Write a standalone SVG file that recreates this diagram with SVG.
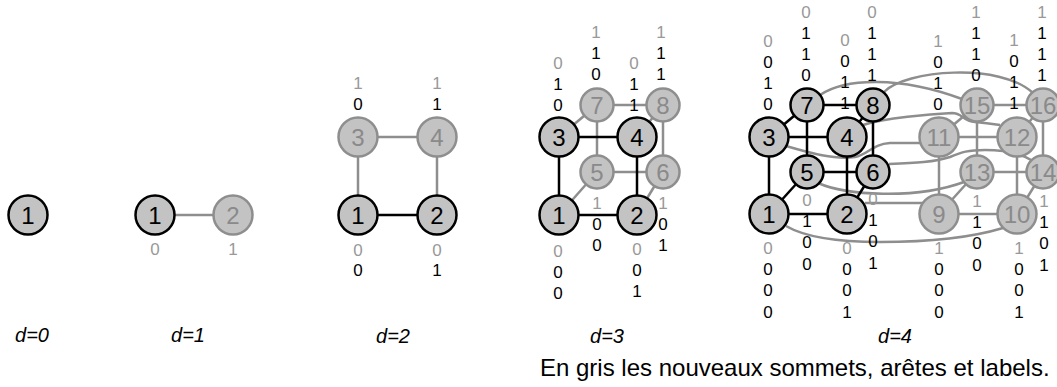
<svg xmlns="http://www.w3.org/2000/svg" width="1057" height="387" viewBox="0 0 1057 387">
<style>
.bg{fill:#fff}
.ob{fill:#c3c3c3;stroke:#000;stroke-width:2.5}
.nb{fill:#c3c3c3;stroke:#8e8e8e;stroke-width:2.5}
.ot{font-family:"Liberation Sans",Arial,sans-serif;font-size:24px;fill:#000;text-anchor:middle}
.nt{font-family:"Liberation Sans",Arial,sans-serif;font-size:24px;fill:#8a8a8a;text-anchor:middle}
.eb{stroke:#000;stroke-width:2.5;fill:none}
.eg{stroke:#8e8e8e;stroke-width:2.5;fill:none}
.bits{font-family:"Liberation Sans",Arial,sans-serif;font-size:17px;fill:#000;text-anchor:middle}
.g{fill:#999}
.dl{font-family:"Liberation Sans",Arial,sans-serif;font-size:20px;font-style:italic;fill:#000;text-anchor:middle}
.cap{font-family:"Liberation Sans",Arial,sans-serif;font-size:24px;fill:#000}
</style>
<rect class="bg" x="0" y="0" width="1057" height="387"/>

<!-- ================= connectors ================= -->
<g id="connectors">
  <!-- d=1 -->
  <line class="eg" x1="155" y1="215" x2="233" y2="215"/>
  <!-- d=2 -->
  <line class="eg" x1="358" y1="215" x2="358" y2="137"/>
  <line class="eg" x1="437" y1="215" x2="437" y2="137"/>
  <line class="eg" x1="358" y1="137" x2="437" y2="137"/>
  <line class="eb" x1="358" y1="215" x2="437" y2="215"/>
  <!-- d=3 gray -->
  <line class="eg" x1="597" y1="172" x2="663" y2="172"/>
  <line class="eg" x1="597" y1="105" x2="663" y2="105"/>
  <line class="eg" x1="597" y1="172" x2="597" y2="105"/>
  <line class="eg" x1="663" y1="172" x2="663" y2="105"/>
  <line class="eg" x1="559" y1="215" x2="597" y2="172"/>
  <line class="eg" x1="637" y1="215" x2="663" y2="172"/>
  <line class="eg" x1="559" y1="137" x2="597" y2="105"/>
  <line class="eg" x1="637" y1="137" x2="663" y2="105"/>
  <!-- d=3 black -->
  <line class="eb" x1="559" y1="215" x2="637" y2="215"/>
  <line class="eb" x1="559" y1="215" x2="559" y2="137"/>
  <line class="eb" x1="559" y1="137" x2="637" y2="137"/>
  <line class="eb" x1="637" y1="215" x2="637" y2="137"/>
  <!-- d=4 links between halves -->
  <path class="eg" d="M820,95 C845,78 900,76 962,99"/>
  <path class="eg" d="M884,92 C905,70 1000,62 1033,93"/>
  <path class="eg" d="M863,125 C885,118 930,114 952,113 C963,113 962,121 975,122 C986,123 993,124 1000,125"/>
  <path class="eg" d="M786,146 C810,153 835,160 855,157 C868,155 872,144 890,143 L921,143"/>
  <path class="eg" d="M889,164 C915,163 935,162 950,157 C962,152 968,150 985,150 C1005,150 1020,153 1033,161"/>
  <path class="eg" d="M818,183 C845,195 915,200 964,182"/>
  <line class="eg" x1="865" y1="203" x2="923" y2="203"/>
  <path class="eg" d="M786,226 C810,240 850,242 880,242 C930,242 970,238 1003,228"/>
  <!-- d=4 right cube (gray) -->
  <line class="eg" x1="939" y1="214" x2="1017" y2="214"/>
  <line class="eg" x1="939" y1="137" x2="1017" y2="137"/>
  <line class="eg" x1="939" y1="214" x2="939" y2="137"/>
  <line class="eg" x1="1017" y1="214" x2="1017" y2="137"/>
  <line class="eg" x1="977" y1="172" x2="1043" y2="172"/>
  <line class="eg" x1="977" y1="105" x2="1043" y2="105"/>
  <line class="eg" x1="977" y1="172" x2="977" y2="105"/>
  <line class="eg" x1="1043" y1="172" x2="1043" y2="105"/>
  <line class="eg" x1="939" y1="214" x2="977" y2="172"/>
  <line class="eg" x1="1017" y1="214" x2="1043" y2="172"/>
  <line class="eg" x1="939" y1="137" x2="977" y2="105"/>
  <line class="eg" x1="1017" y1="137" x2="1043" y2="105"/>
  <!-- d=4 left cube (black) -->
  <line class="eb" x1="807" y1="172" x2="873" y2="172"/>
  <line class="eb" x1="807" y1="105" x2="873" y2="105"/>
  <line class="eb" x1="807" y1="172" x2="807" y2="105"/>
  <line class="eb" x1="873" y1="172" x2="873" y2="105"/>
  <line class="eb" x1="769" y1="214" x2="807" y2="172"/>
  <line class="eb" x1="847" y1="214" x2="873" y2="172"/>
  <line class="eb" x1="769" y1="137" x2="807" y2="105"/>
  <line class="eb" x1="847" y1="137" x2="873" y2="105"/>
  <line class="eb" x1="769" y1="214" x2="847" y2="214"/>
  <line class="eb" x1="769" y1="214" x2="769" y2="137"/>
  <line class="eb" x1="769" y1="137" x2="847" y2="137"/>
  <line class="eb" x1="847" y1="214" x2="847" y2="137"/>
</g>

<!-- ================= nodes ================= -->
<!-- d=0 -->
<g id="d0-n1"><circle class="ob" cx="28" cy="215" r="19.5"/><text class="ot" x="28" y="223.6">1</text></g>
<!-- d=1 -->
<g id="d1-n1"><circle class="ob" cx="155" cy="215" r="19.5"/><text class="ot" x="155" y="223.6">1</text></g>
<g id="d1-n2"><circle class="nb" cx="233" cy="215" r="19.5"/><text class="nt" x="233" y="223.6">2</text></g>
<!-- d=2 -->
<g id="d2-n1"><circle class="ob" cx="358" cy="215" r="19.5"/><text class="ot" x="358" y="223.6">1</text></g>
<g id="d2-n2"><circle class="ob" cx="437" cy="215" r="19.5"/><text class="ot" x="437" y="223.6">2</text></g>
<g id="d2-n3"><circle class="nb" cx="358" cy="137" r="19.5"/><text class="nt" x="358" y="145.6">3</text></g>
<g id="d2-n4"><circle class="nb" cx="437" cy="137" r="19.5"/><text class="nt" x="437" y="145.6">4</text></g>
<!-- d=3 -->
<g id="d3-n5"><circle class="nb" cx="597" cy="172" r="16.5"/><text class="nt" x="597" y="180.6">5</text></g>
<g id="d3-n6"><circle class="nb" cx="663" cy="172" r="16.5"/><text class="nt" x="663" y="180.6">6</text></g>
<g id="d3-n7"><circle class="nb" cx="597" cy="105" r="16.5"/><text class="nt" x="597" y="113.6">7</text></g>
<g id="d3-n8"><circle class="nb" cx="663" cy="105" r="16.5"/><text class="nt" x="663" y="113.6">8</text></g>
<g id="d3-n1"><circle class="ob" cx="559" cy="215" r="19.5"/><text class="ot" x="559" y="223.6">1</text></g>
<g id="d3-n2"><circle class="ob" cx="637" cy="215" r="19.5"/><text class="ot" x="637" y="223.6">2</text></g>
<g id="d3-n3"><circle class="ob" cx="559" cy="137" r="19.5"/><text class="ot" x="559" y="145.6">3</text></g>
<g id="d3-n4"><circle class="ob" cx="637" cy="137" r="19.5"/><text class="ot" x="637" y="145.6">4</text></g>
<!-- d=4 left -->
<g id="d4-n5"><circle class="ob" cx="807" cy="172" r="16.5"/><text class="ot" x="807" y="180.6">5</text></g>
<g id="d4-n6"><circle class="ob" cx="873" cy="172" r="16.5"/><text class="ot" x="873" y="180.6">6</text></g>
<g id="d4-n7"><circle class="ob" cx="807" cy="105" r="16.5"/><text class="ot" x="807" y="113.6">7</text></g>
<g id="d4-n8"><circle class="ob" cx="873" cy="105" r="16.5"/><text class="ot" x="873" y="113.6">8</text></g>
<g id="d4-n1"><circle class="ob" cx="769" cy="214" r="19.5"/><text class="ot" x="769" y="222.6">1</text></g>
<g id="d4-n2"><circle class="ob" cx="847" cy="214" r="19.5"/><text class="ot" x="847" y="222.6">2</text></g>
<g id="d4-n3"><circle class="ob" cx="769" cy="137" r="19.5"/><text class="ot" x="769" y="145.6">3</text></g>
<g id="d4-n4"><circle class="ob" cx="847" cy="137" r="19.5"/><text class="ot" x="847" y="145.6">4</text></g>
<!-- d=4 right -->
<g id="d4-n13"><circle class="nb" cx="977" cy="172" r="16.5"/><text class="nt" x="977" y="180.6">13</text></g>
<g id="d4-n14"><circle class="nb" cx="1043" cy="172" r="16.5"/><text class="nt" x="1043" y="180.6">14</text></g>
<g id="d4-n15"><circle class="nb" cx="977" cy="105" r="16.5"/><text class="nt" x="977" y="113.6">15</text></g>
<g id="d4-n16"><circle class="nb" cx="1043" cy="105" r="16.5"/><text class="nt" x="1043" y="113.6">16</text></g>
<g id="d4-n9"><circle class="nb" cx="939" cy="214" r="19.5"/><text class="nt" x="939" y="222.6">9</text></g>
<g id="d4-n10"><circle class="nb" cx="1017" cy="214" r="19.5"/><text class="nt" x="1017" y="222.6">10</text></g>
<g id="d4-n11"><circle class="nb" cx="939" cy="137" r="19.5"/><text class="nt" x="939" y="145.6">11</text></g>
<g id="d4-n12"><circle class="nb" cx="1017" cy="137" r="19.5"/><text class="nt" x="1017" y="145.6">12</text></g>

<!-- ================= bit labels ================= -->
<g id="labels" class="bits">
  <!-- d=1 -->
  <text class="g" x="155" y="255">0</text>
  <text class="g" x="233" y="255">1</text>
  <!-- d=2 -->
  <text x="358" y="89"><tspan class="g">1</tspan><tspan x="358" dy="21">0</tspan></text>
  <text x="437" y="89"><tspan class="g">1</tspan><tspan x="437" dy="21">1</tspan></text>
  <text x="358" y="256"><tspan class="g">0</tspan><tspan x="358" dy="20">0</tspan></text>
  <text x="437" y="256"><tspan class="g">0</tspan><tspan x="437" dy="20">1</tspan></text>
  <!-- d=3 -->
  <text x="558" y="69"><tspan class="g">0</tspan><tspan x="558" dy="21">1</tspan><tspan x="558" dy="21">0</tspan></text>
  <text x="596" y="38"><tspan class="g">1</tspan><tspan x="596" dy="21">1</tspan><tspan x="596" dy="21">0</tspan></text>
  <text x="634" y="69"><tspan class="g">0</tspan><tspan x="634" dy="21">1</tspan><tspan x="634" dy="21">1</tspan></text>
  <text x="661" y="38"><tspan class="g">1</tspan><tspan x="661" dy="21">1</tspan><tspan x="661" dy="21">1</tspan></text>
  <text x="597" y="209"><tspan class="g">1</tspan><tspan x="597" dy="21">0</tspan><tspan x="597" dy="21">0</tspan></text>
  <text x="663" y="209"><tspan class="g">1</tspan><tspan x="663" dy="21">0</tspan><tspan x="663" dy="21">1</tspan></text>
  <text x="558" y="257"><tspan class="g">0</tspan><tspan x="558" dy="21">0</tspan><tspan x="558" dy="21">0</tspan></text>
  <text x="637" y="255"><tspan class="g">0</tspan><tspan x="637" dy="21">0</tspan><tspan x="637" dy="21">1</tspan></text>
  <!-- d=4 left -->
  <text x="768" y="47"><tspan class="g">0</tspan><tspan x="768" dy="21">0</tspan><tspan x="768" dy="21">1</tspan><tspan x="768" dy="21">0</tspan></text>
  <text x="806" y="18"><tspan class="g">0</tspan><tspan x="806" dy="21">1</tspan><tspan x="806" dy="21">1</tspan><tspan x="806" dy="21">0</tspan></text>
  <text x="845" y="46"><tspan class="g">0</tspan><tspan x="845" dy="21">0</tspan><tspan x="845" dy="21">1</tspan><tspan x="845" dy="21">1</tspan></text>
  <text x="872" y="18"><tspan class="g">0</tspan><tspan x="872" dy="21">1</tspan><tspan x="872" dy="21">1</tspan><tspan x="872" dy="21">1</tspan></text>
  <text x="807" y="206"><tspan class="g">0</tspan><tspan x="807" dy="21">1</tspan><tspan x="807" dy="21">0</tspan><tspan x="807" dy="22">0</tspan></text>
  <text x="873" y="205"><tspan class="g">0</tspan><tspan x="873" dy="21">1</tspan><tspan x="873" dy="21">0</tspan><tspan x="873" dy="22">1</tspan></text>
  <text x="768" y="254"><tspan class="g">0</tspan><tspan x="768" dy="21">0</tspan><tspan x="768" dy="21">0</tspan><tspan x="768" dy="22">0</tspan></text>
  <text x="847" y="254"><tspan class="g">0</tspan><tspan x="847" dy="21">0</tspan><tspan x="847" dy="21">0</tspan><tspan x="847" dy="22">1</tspan></text>
  <!-- d=4 right -->
  <text x="938" y="47"><tspan class="g">1</tspan><tspan x="938" dy="21">0</tspan><tspan x="938" dy="21">1</tspan><tspan x="938" dy="21">0</tspan></text>
  <text x="976" y="18"><tspan class="g">1</tspan><tspan x="976" dy="21">1</tspan><tspan x="976" dy="21">1</tspan><tspan x="976" dy="21">0</tspan></text>
  <text x="1014" y="46"><tspan class="g">1</tspan><tspan x="1014" dy="21">0</tspan><tspan x="1014" dy="21">1</tspan><tspan x="1014" dy="21">1</tspan></text>
  <text x="1042" y="18"><tspan class="g">1</tspan><tspan x="1042" dy="21">1</tspan><tspan x="1042" dy="21">1</tspan><tspan x="1042" dy="21">1</tspan></text>
  <text x="977" y="207"><tspan class="g">1</tspan><tspan x="977" dy="21">1</tspan><tspan x="977" dy="21">0</tspan><tspan x="977" dy="22">0</tspan></text>
  <text x="1044" y="207"><tspan class="g">1</tspan><tspan x="1044" dy="21">1</tspan><tspan x="1044" dy="21">0</tspan><tspan x="1044" dy="22">1</tspan></text>
  <text x="939" y="254"><tspan class="g">1</tspan><tspan x="939" dy="21">0</tspan><tspan x="939" dy="21">0</tspan><tspan x="939" dy="22">0</tspan></text>
  <text x="1019" y="254"><tspan class="g">1</tspan><tspan x="1019" dy="21">0</tspan><tspan x="1019" dy="21">0</tspan><tspan x="1019" dy="22">1</tspan></text>
</g>

<!-- ================= captions ================= -->
<g id="captions">
  <text class="dl" x="32" y="342">d=0</text>
  <text class="dl" x="188" y="342">d=1</text>
  <text class="dl" x="393" y="343">d=2</text>
  <text class="dl" x="607" y="343">d=3</text>
  <text class="dl" x="895" y="343">d=4</text>
  <text class="cap" x="540" y="376">En gris les nouveaux sommets, arêtes et labels.</text>
</g>
</svg>
